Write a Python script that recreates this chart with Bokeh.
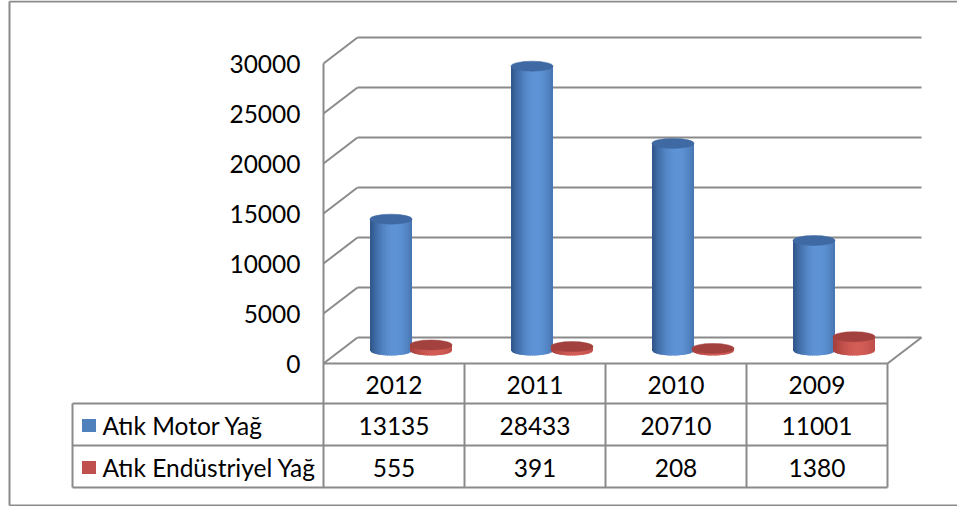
from bokeh.plotting import figure
from bokeh.models import Range1d
from bokeh.embed import file_html
from bokeh.resources import INLINE
from bokeh.core.properties import value
import numpy as np

# ---------------- data ----------------
years = ["2012", "2011", "2010", "2009"]
motor = [13135, 28433, 20710, 11001]
endustriyel = [555, 391, 208, 1380]
series_names = ["Atık Motor Yağ", "Atık Endüstriyel Yağ"]
y_ticks = [0, 5000, 10000, 15000, 20000, 25000, 30000]

# ---------------- layout (pixels) ----------------
W, H = 957, 506
PLOT_LEFT, PLOT_RIGHT = 323, 887
FLOOR_Y, TOP_Y = 363, 63
DEPTH_PX_X, DEPTH_PX_Y = 34, 26
Y_MAX = 30000
CAT_W = (PLOT_RIGHT - PLOT_LEFT) / len(years)
VAL_PER_PX = Y_MAX / (FLOOR_Y - TOP_Y)


def X(px):
    return (px - PLOT_LEFT) / CAT_W


def Y(py):
    return (FLOOR_Y - py) * VAL_PER_PX


DX = DEPTH_PX_X / CAT_W
DY = DEPTH_PX_Y * VAL_PER_PX
NCAT = len(years)

GRID = "#8a8a8a"
FONT = "Lato"
FS = "24.5px"

p = figure(width=W, height=H, output_backend="svg", toolbar_location=None,
           x_range=Range1d(X(0), X(W)), y_range=Range1d(Y(H), Y(0)),
           min_border=0, outline_line_color=None)
p.axis.visible = False
p.grid.visible = False
p.background_fill_color = "white"
p.border_fill_color = "white"

# ---------------- walls / grid ----------------
xs, ys = [], []
for v in y_ticks:
    xs.append([DX, NCAT + DX]); ys.append([v + DY, v + DY])   # back wall
    xs.append([0, DX]); ys.append([v, v + DY])                 # side wall
xs.append([NCAT, NCAT + DX]); ys.append([0, DY])               # floor right edge
p.multi_line(xs, ys, line_color=GRID, line_width=2)

# ---------------- cylinders ----------------
RAD_X = 21 / CAT_W
RAD_Y = 5 * VAL_PER_PX
OFFS = [-20 / CAT_W, 20 / CAT_W]
styles = [
    dict(dark="#2c5083", light="#5e93d6", cap="#3e69a3", key="#4f81bd"),
    dict(dark="#a13b38", light="#d35d57", cap="#a3413e", key="#c0504d"),
]


def lerp_color(c1, c2, f):
    a = [int(c1[i:i + 2], 16) for i in (1, 3, 5)]
    b = [int(c2[i:i + 2], 16) for i in (1, 3, 5)]
    return "#%02x%02x%02x" % tuple(int(round(a[k] + (b[k] - a[k]) * f)) for k in range(3))


def bottom_y(base, t):
    return base - RAD_Y * np.sqrt(max(0.0, 1 - t * t))


NSTRIP = 20
t_edges = np.linspace(-1, 1, NSTRIP + 1)
step = t_edges[1] - t_edges[0]
base = DY / 2
for i in range(NCAT):
    for s, vals in enumerate([motor, endustriyel]):
        st = styles[s]
        xc = i + 0.5 + OFFS[s] + DX / 2
        top = base + vals[i]
        pxs, pys, cols = [], [], []
        for k in range(NSTRIP):
            t0 = t_edges[k]
            t1 = min(1.0, t_edges[k + 1] + 0.6 * step)
            tc = t_edges[k] + step / 2
            f = max(0.0, np.cos((tc - 0.2) * np.pi / 2.5))
            cols.append(lerp_color(st["dark"], st["light"], f))
            tm = (t0 + t1) / 2
            pxs.append([xc + t0 * RAD_X, xc + t1 * RAD_X, xc + t1 * RAD_X,
                        xc + tm * RAD_X, xc + t0 * RAD_X])
            pys.append([top, top, bottom_y(base, t1), bottom_y(base, tm), bottom_y(base, t0)])
        p.patches(pxs, pys, fill_color=cols, line_color=None)
        p.ellipse(x=[xc], y=[top], width=2 * RAD_X, height=2 * RAD_Y,
                  fill_color=st["cap"], line_color=st["cap"], line_width=0.5)

# ---------------- table ----------------
tx, ty = [], []
for py in (403, 445, 487):
    tx.append([X(72), NCAT]); ty.append([Y(py), Y(py)])
tx.append([0, NCAT]); ty.append([0, 0])
for c in range(1, NCAT + 1):
    tx.append([c, c]); ty.append([0, Y(487)])
tx.append([0, 0]); ty.append([Y_MAX, Y(487)])
tx.append([X(72), X(72)]); ty.append([Y(403), Y(487)])
# outer border
tx.append([X(9), X(9)]); ty.append([Y(1), Y(505)])
tx.append([X(9), X(W + 5)]); ty.append([Y(1), Y(1)])
tx.append([X(9), X(W + 5)]); ty.append([Y(505), Y(505)])
p.multi_line(tx, ty, line_color=GRID, line_width=2)

# y-axis labels
p.text(x=[X(300)] * len(y_ticks), y=y_ticks, text=[str(v) for v in y_ticks],
       text_align="right", text_baseline="middle", text_font=value(FONT),
       text_font_size=FS, text_color="black")

# header / values
cx = [i + 0.5 for i in range(NCAT)]
p.text(x=cx, y=[Y(384)] * NCAT, text=years, text_align="center", text_baseline="middle",
       text_font=value(FONT), text_font_size=FS, text_color="black")
row_y = [Y(425), Y(467)]
for s, vals in enumerate([motor, endustriyel]):
    p.text(x=cx, y=[row_y[s]] * NCAT, text=[str(v) for v in vals], text_align="center",
           text_baseline="middle", text_font=value(FONT), text_font_size=FS, text_color="black")
    p.rect(x=[X(88.5)], y=[row_y[s]], width=14 / CAT_W, height=13 * VAL_PER_PX,
           fill_color=styles[s]["key"], line_color=None)
    p.text(x=[X(102)], y=[row_y[s]], text=[series_names[s]], text_align="left",
           text_baseline="middle", text_font=value(FONT), text_font_size=FS, text_color="black")

open("out.html", "w").write(file_html(p, INLINE))
